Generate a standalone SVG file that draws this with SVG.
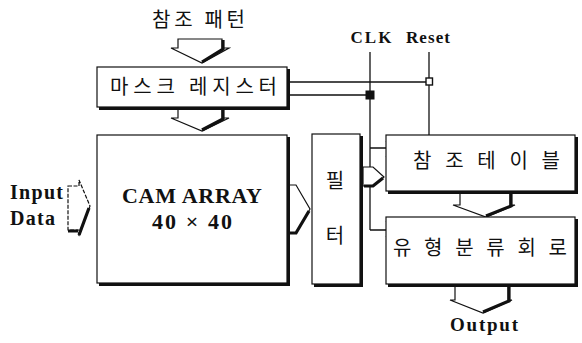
<svg xmlns="http://www.w3.org/2000/svg" width="582" height="343" viewBox="0 0 582 343">
<style>
.box{fill:#fff;stroke:#111;stroke-width:1.2}
.sh{fill:none;stroke:#111;stroke-width:3}
.ln{fill:none;stroke:#111;stroke-width:1.3}
.arr{fill:#fff;stroke:#111;stroke-width:1.2;stroke-linejoin:miter}
.ash{fill:none;stroke:#111;stroke-width:3.2}
.ko{font-family:"Noto Sans CJK KR","Noto Sans",sans-serif;font-size:20px;fill:#111}
.en{font-family:"Liberation Serif","DejaVu Serif",serif;font-weight:bold;fill:#111}
</style>
<rect width="582" height="343" fill="#fff"/>

<g id="connectors">
  <!-- CLK and Reset lines -->
  <path class="ln" d="M370,52 V230 M370,148 H386 M370,230 H386"/>
  <path class="ln" d="M429,52 V135"/>
  <path class="ln" d="M288,82 H429 M288,95 H370"/>
  <rect x="426" y="78" width="6.5" height="7" fill="#fff" stroke="#111" stroke-width="1.4"/>
  <rect x="365.5" y="90.5" width="9" height="9" fill="#111"/>
  <!-- clock triangles -->
  <path class="ln" d="M288,87 L278,95 L288,103"/>
  <path class="ln" d="M386,141 L395,149 L386,157"/>
  <path class="ln" d="M386,221 L395,229 L386,237"/>
  <!-- block arrows -->
  <g id="arrow-pattern">
    <path class="arr" d="M178,39 H222 V48 H229 L202,63 L171,48 H178 Z"/>
    <path class="ash" d="M223,40 V49 L202,62"/>
  </g>
  <g id="arrow-mask-cam">
    <path class="arr" d="M178,108 H222 V118 H229 L202,131 L171,118 H178 Z"/>
    <path class="ash" d="M223,110 V119 L202,130"/>
  </g>
  <g id="arrow-input">
    <path class="arr" d="M68,186 H79 V180 L90,206 L79,236 V230 H68 Z" stroke-dasharray="4 1.5"/>
    <path class="ash" d="M89,208 L79,235 M68,231 H78"/>
  </g>
  <g id="arrow-cam-filter">
    <path class="arr" d="M288,185 H296 L310,209 L296,233 H288 Z"/>
    <path class="ash" d="M309,211 L296,233 H289"/>
  </g>
  <g id="arrow-filter-table">
    <path class="arr" d="M363,167 H373 L384,177 L373,186 H363 Z"/>
    <path class="ash" d="M383,178 L373,186 H364"/>
  </g>
  <g id="arrow-table-class">
    <path class="arr" d="M460,193 H510 V205 H515 L486,217 L453,205 H460 Z"/>
    <path class="ash" d="M511,194 V206 L486,216"/>
  </g>
  <g id="arrow-output">
    <path class="arr" d="M455,286 H508 V300 H512 L483,313 L450,300 H455 Z"/>
    <path class="ash" d="M509,287 V301 L483,312"/>
  </g>
</g>

<g id="label-pattern">
  <text class="ko" x="152" y="27" font-size="18" textLength="93" lengthAdjust="spacing">참조 패턴</text>
</g>

<g id="mask-register">
  <rect class="box" x="97" y="67" width="190" height="40"/>
  <path class="sh" d="M288.5,69 V108.5 H99"/>
  <text class="ko" x="110" y="94" textLength="167" lengthAdjust="spacing">마스크 레지스터</text>
</g>

<g id="cam-array">
  <rect class="box" x="97" y="135" width="190" height="148"/>
  <path class="sh" d="M288.5,137 V284.5 H99"/>
  <text class="en" x="192" y="203" font-size="22" text-anchor="middle" textLength="140" lengthAdjust="spacing">CAM ARRAY</text>
  <text class="en" x="192" y="229" font-size="22" text-anchor="middle" textLength="80" lengthAdjust="spacing">40 × 40</text>
</g>

<g id="input-data">
  <text class="en" x="10" y="199" font-size="20" textLength="53" lengthAdjust="spacing">Input</text>
  <text class="en" x="10" y="225" font-size="20" textLength="45" lengthAdjust="spacing">Data</text>
</g>

<g id="filter">
  <rect class="box" x="312" y="134" width="48" height="150"/>
  <path class="sh" d="M361.5,136 V285.5 H314"/>
  <text class="ko" x="335" y="188" text-anchor="middle">필</text>
  <text class="ko" x="335" y="243" text-anchor="middle">터</text>
</g>

<g id="clk-reset">
  <text class="en" x="371" y="43" font-size="17" text-anchor="middle" textLength="41" lengthAdjust="spacing">CLK</text>
  <text class="en" x="428" y="43" font-size="17" text-anchor="middle" textLength="44" lengthAdjust="spacing">Reset</text>
</g>

<g id="ref-table">
  <rect class="box" x="386" y="135" width="189" height="56"/>
  <path class="sh" d="M576.5,137 V192.5 H388"/>
  <text class="ko" x="413" y="168" textLength="147" lengthAdjust="spacing">참조테이블</text>
</g>

<g id="classifier">
  <rect class="box" x="386" y="217" width="189" height="67"/>
  <path class="sh" d="M576.5,219 V285.5 H388"/>
  <text class="ko" x="393" y="255" textLength="174" lengthAdjust="spacing">유형분류회로</text>
</g>

<g id="output-label">
  <text class="en" x="450" y="331" font-size="19" textLength="68" lengthAdjust="spacing">Output</text>
</g>
</svg>
